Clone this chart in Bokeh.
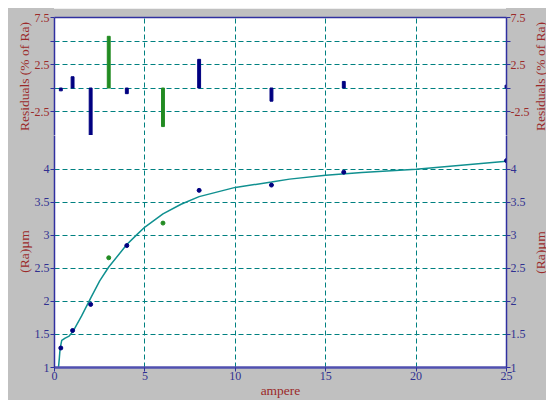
import math
from bokeh.plotting import figure
from bokeh.layouts import column, row
from bokeh.models import Range1d, LinearAxis, FixedTicker, ColumnDataSource
from bokeh.core.properties import value
from bokeh.embed import file_html
from bokeh.resources import INLINE

# ---- data ----
current = [0.35, 1, 2, 3, 4, 6, 8, 12, 16, 25]
ra_um = [1.295, 1.56, 1.955, 2.66, 2.845, 3.185, 3.68, 3.76, 3.955, 4.13]
residual_pct = [-0.3, 1.2, -5.0, 5.5, -0.6, -4.1, 3.05, -1.4, 0.7, 0.3]
flagged = [False, False, False, True, False, True, False, False, False, False]

fit_x = [0.22, 0.27, 0.31, 0.40, 0.59, 0.81, 1.01, 1.5, 2.0, 2.5, 3, 4, 4.5, 5, 6, 7, 8, 10, 12, 13, 15, 17, 20, 25]
fit_y = [1.0, 1.15, 1.285, 1.41, 1.445, 1.475, 1.54, 1.78, 2.05, 2.31, 2.52, 2.86, 2.995, 3.125, 3.325, 3.47, 3.585, 3.725, 3.805, 3.85, 3.91, 3.95, 4.0, 4.12]

x_ticks = [0, 5, 10, 15, 20, 25]
res_ticks = [-5, -2.5, 0, 2.5, 5, 7.5]
res_labels = {-5: "", -2.5: "-2.5", 0: "", 2.5: "2.5", 5: "", 7.5: "7.5"}
ra_ticks = [1, 1.5, 2, 2.5, 3, 3.5, 4]
RES_TITLE = "Residuals (% of Ra)"
RA_TITLE = "(Ra)µm"
X_TITLE = "ampere"

# ---- styles ----
NAVY = "#000080"
GREEN = "#228B22"
TEAL = "#008080"
AXIS = "#3030A0"
RED = "#9B2A2A"
TICK_BLUE = "#303090"
BG = "#C0C0C0"
FONT = "Liberation Serif"

colors = [GREEN if f else NAVY for f in flagged]
src = ColumnDataSource(dict(x=current, ra=ra_um, res=residual_pct, color=colors))
fit = ColumnDataSource(dict(x=fit_x, y=fit_y))

x_range = Range1d(0, 25)

STRIP = 13          # right strip holding the right-hand axis titles
W = 538 - STRIP
TOP_H = 127
BOT_H = 265
BL = 46
BR = 27
BT = 9
BB = 31


def style_frame(p):
    p.background_fill_color = "white"
    p.border_fill_color = BG
    p.outline_line_color = None
    p.min_border_left = BL
    p.min_border_right = BR
    p.xgrid.ticker = FixedTicker(ticks=[5, 10, 15, 20])
    for g in (p.xgrid, p.ygrid):
        g.grid_line_color = TEAL
        g.grid_line_dash = "5 3"
        g.grid_line_width = 1


def style_y(ax, ticks, label_color, overrides=None, label=None, standoff=2, label_gap=1):
    ax.ticker = FixedTicker(ticks=ticks)
    if overrides:
        ax.major_label_overrides = overrides
    if label:
        ax.axis_label = label
        ax.axis_label_text_font = FONT
        ax.axis_label_text_font_style = "normal"
        ax.axis_label_text_font_size = "13.5px"
        ax.axis_label_text_color = RED
        ax.axis_label_standoff = standoff
    ax.major_label_text_font = FONT
    ax.major_label_text_font_size = "12px"
    ax.major_label_text_color = label_color
    ax.major_label_standoff = label_gap
    ax.axis_line_color = AXIS
    ax.axis_line_width = 1.5
    ax.major_tick_line_color = AXIS
    ax.major_tick_out = 4
    ax.major_tick_in = 0
    ax.minor_tick_line_color = None


def title_strip(text, height, top, bottom):
    q = figure(width=STRIP, height=height, x_range=Range1d(0, 1), y_range=Range1d(0, 1),
               output_backend="svg", toolbar_location=None,
               x_axis_location=None, y_axis_location=None,
               min_border_left=0, min_border_right=0,
               min_border_top=top, min_border_bottom=bottom)
    q.background_fill_color = BG
    q.border_fill_color = BG
    q.outline_line_color = None
    q.xgrid.visible = False
    q.ygrid.visible = False
    q.text(x=[0.5], y=[0.5], text=[text], angle=math.pi / 2,
           text_align="center", text_baseline="middle",
           text_font=value(FONT), text_font_size="13.5px", text_color=RED)
    return q


# ---- residual panel ----
p1 = figure(width=W, height=TOP_H, x_range=x_range, y_range=Range1d(-5.05, 7.5),
            output_backend="svg", toolbar_location=None, x_axis_location="above",
            min_border_top=BT, min_border_bottom=0)
style_frame(p1)
p1.ygrid.ticker = FixedTicker(ticks=[-5, -2.5, 0, 2.5, 5])
xa = p1.xaxis[0]
xa.ticker = FixedTicker(ticks=[])
xa.major_label_text_font_size = "0px"
xa.axis_line_color = AXIS
xa.axis_line_width = 1.5
xa.major_tick_line_color = None
xa.minor_tick_line_color = None
style_y(p1.yaxis[0], res_ticks, RED, res_labels, label=RES_TITLE, standoff=-4)
r_ax = LinearAxis()
p1.add_layout(r_ax, "right")
style_y(r_ax, res_ticks, RED, res_labels, label_gap=0)
p1.vbar(x="x", top="res", bottom=0, width=0.16, color="color", source=src)

# ---- Ra panel ----
p2 = figure(width=W, height=BOT_H, x_range=x_range, y_range=Range1d(1, 4.51),
            output_backend="svg", toolbar_location=None,
            min_border_top=0, min_border_bottom=BB)
style_frame(p2)
p2.ygrid.ticker = FixedTicker(ticks=[1.5, 2, 2.5, 3, 3.5, 4])
bx = p2.xaxis[0]
bx.ticker = FixedTicker(ticks=x_ticks)
bx.axis_label = X_TITLE
bx.axis_label_text_font = FONT
bx.axis_label_text_font_style = "normal"
bx.axis_label_text_font_size = "13.5px"
bx.axis_label_text_color = RED
bx.axis_label_standoff = 0
bx.major_label_text_font = FONT
bx.major_label_text_font_size = "12px"
bx.major_label_text_color = TICK_BLUE
bx.major_label_standoff = 0
bx.axis_line_color = "#5050B0"
bx.axis_line_width = 2.5
bx.major_tick_line_color = AXIS
bx.major_tick_out = 4
bx.major_tick_in = 0
bx.minor_tick_line_color = None
style_y(p2.yaxis[0], ra_ticks, TICK_BLUE, label=RA_TITLE, standoff=0)
r_ax2 = LinearAxis()
p2.add_layout(r_ax2, "right")
style_y(r_ax2, ra_ticks, TICK_BLUE, label_gap=0)

p2.line(x="x", y="y", source=fit, line_color="#109090", line_width=1.5)
p2.scatter(x="x", y="ra", size=4, color="color", source=src)

q1 = title_strip(RES_TITLE, TOP_H, BT, 0)
q2 = title_strip(RA_TITLE, BOT_H, 0, BB)

grad = ("linear-gradient(to right, %s %dpx, white %dpx, white %dpx, %s %dpx)"
        % (BG, BL, BL, W - BR, BG, W - BR))
plots = column(p1, p2, spacing=0, styles={"background": grad})
strip = column(q1, q2, spacing=0, styles={"background-color": BG})
layout = row(plots, strip, spacing=0,
             styles={"padding-left": "8px", "padding-top": "8px",
                     "background-color": "white"})
open("out.html", "w").write(file_html(layout, INLINE))
